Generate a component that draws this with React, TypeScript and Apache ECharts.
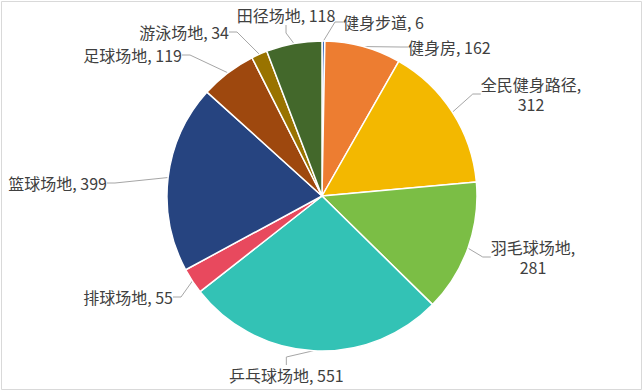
import React, { useEffect, useRef } from "react";
import * as echarts from "echarts";

const categories = ["健身步道", "健身房", "全民健身路径", "羽毛球场地", "乒乓球场地", "排球场地", "篮球场地", "足球场地", "游泳场地", "田径场地"];
const values = [6, 162, 312, 281, 551, 55, 399, 119, 34, 118];
const colors = ["#4472C4", "#ED7D31", "#F3B800", "#7BBE45", "#33C2B5", "#E8495E", "#264480", "#9E480E", "#997300", "#43682B"];
const twoLine = ["全民健身路径", "羽毛球场地"];

// label anchor placements (x, y, align)
const labelPlaces: [number, number, string][] = [
  [343, 22, "left"],
  [408, 47, "left"],
  [531, 94, "center"],
  [533, 257, "center"],
  [229, 375, "left"],
  [173, 297, "right"],
  [107, 183, "right"],
  [182, 55, "right"],
  [229, 32, "right"],
  [286, 15, "center"],
];

export default function App() {
  const ref = useRef<HTMLDivElement>(null);
  useEffect(() => {
    if (!ref.current) return;
    const chart = echarts.init(ref.current, null, { renderer: "svg" });
    chart.setOption({
      animation: false,
      backgroundColor: "#ffffff",
      graphic: [
        {
          type: "rect",
          shape: { x: 1.5, y: 1.5, width: 640, height: 388 },
          style: { fill: "none", stroke: "#d9d9d9", lineWidth: 1 },
          silent: true,
        },
      ],
      series: [
        {
          type: "pie",
          center: [322, 196],
          radius: 155,
          startAngle: 90,
          clockwise: true,
          avoidLabelOverlap: false,
          itemStyle: { borderColor: "#ffffff", borderWidth: 1.5 },
          label: {
            show: true,
            position: "outside",
            color: "#404040",
            fontSize: 16,
            lineHeight: 20,
            fontFamily: "'Noto Sans CJK SC', 'Noto Sans', sans-serif",
            formatter: (p: any) =>
              twoLine.includes(p.name) ? `${p.name},\n${p.value}` : `${p.name}, ${p.value}`,
          },
          labelLine: {
            show: true,
            length: 10,
            length2: 8,
            lineStyle: { color: "#a6a6a6", width: 1 },
          },
          labelLayout: (params: any) => {
            const pl = labelPlaces[params.dataIndex];
            return {
              x: pl[0],
              y: pl[1],
              align: pl[2],
              verticalAlign: "middle",
            };
          },
          data: categories.map((c, i) => ({
            name: c,
            value: values[i],
            itemStyle: { color: colors[i] },
          })),
        },
      ],
    });
    return () => chart.dispose();
  }, []);
  return (
    <div
      ref={ref}
      style={{ position: "absolute", left: 0, top: 0, width: 644, height: 392 }}
    />
  );
}
